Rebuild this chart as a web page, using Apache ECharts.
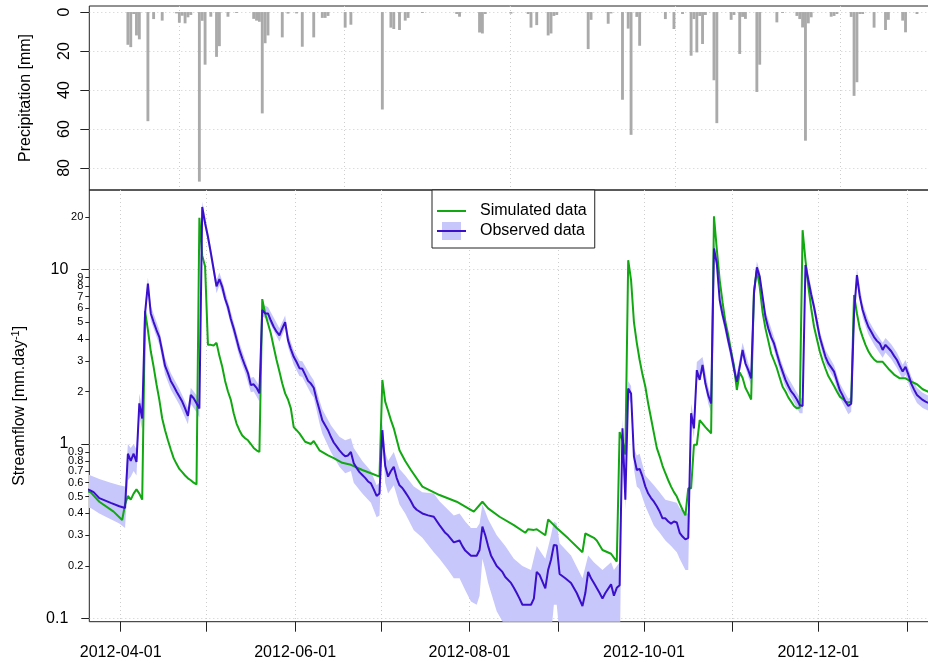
<!DOCTYPE html>
<html>
<head>
<meta charset="utf-8">
<script src="https://cdn.jsdelivr.net/npm/echarts@6/dist/echarts.min.js"></script>
<style>html,body{margin:0;padding:0;background:#fff}#c{width:928px;height:663px}</style>
</head>
<body>
<div id="c"></div>
<script>
// ---------------- DATA ----------------
const precipitation = [
['2012-04-03',16.8],['2012-04-04',18],['2012-04-05',1],['2012-04-06',12],['2012-04-07',14],['2012-04-10',56],['2012-04-12',3.6],['2012-04-15',4.4],['2012-04-20',0.7],['2012-04-21',5.5],['2012-04-22',1.9],['2012-04-23',5.8],['2012-04-24',2.7],['2012-04-25',1.5],['2012-04-28',87],['2012-04-29',4.5],['2012-04-30',27],['2012-05-02',2.4],['2012-05-04',23],['2012-05-05',17.5],['2012-05-08',2.4],['2012-05-11',0.5],['2012-05-17',3.5],['2012-05-18',4.4],['2012-05-19',5],['2012-05-20',52],['2012-05-21',16],['2012-05-22',12],['2012-05-27',13],['2012-05-29',0.8],['2012-06-01',0.7],['2012-06-03',17.8],['2012-06-07',13],['2012-06-10',3],['2012-06-11',3],['2012-06-12',2],['2012-06-18',8],['2012-06-20',6.5],['2012-07-01',50],['2012-07-04',8],['2012-07-05',8.7],['2012-07-07',9.2],['2012-07-09',4.4],['2012-07-10',3],['2012-07-15',0.5],['2012-07-27',1],['2012-07-28',2.4],['2012-08-04',10.5],['2012-08-05',11],['2012-08-06',1],['2012-08-15',0.8],['2012-08-21',1],['2012-08-22',8],['2012-08-24',6.7],['2012-08-28',12],['2012-08-29',11],['2012-08-30',2],['2012-08-31',1.5],['2012-09-11',19],['2012-09-12',4],['2012-09-18',6],['2012-09-19',0.7],['2012-09-23',45],['2012-09-25',8.5],['2012-09-26',63],['2012-09-28',2.5],['2012-09-29',17.3],['2012-10-08',3.6],['2012-10-11',8.7],['2012-10-14',1],['2012-10-17',22.4],['2012-10-18',3.6],['2012-10-19',20.7],['2012-10-20',2],['2012-10-21',16.4],['2012-10-22',1.5],['2012-10-25',35],['2012-10-26',57],['2012-10-31',4],['2012-11-01',1.5],['2012-11-03',21.5],['2012-11-04',2.5],['2012-11-05',3.5],['2012-11-09',41],['2012-11-10',27],['2012-11-16',5.3],['2012-11-18',0.5],['2012-11-23',2],['2012-11-24',3.6],['2012-11-25',7.9],['2012-11-26',66],['2012-11-27',5.8],['2012-11-28',2.7],['2012-12-05',2.4],['2012-12-06',2],['2012-12-07',1],['2012-12-12',2.5],['2012-12-13',43],['2012-12-14',36],['2012-12-15',1],['2012-12-16',1],['2012-12-20',8],['2012-12-24',9.2],['2012-12-25',4],['2012-12-30',4.4],['2012-12-31',10.4],['2013-01-04',1]
];

const simulated = [
['2012-03-20',0.535],['2012-03-21',0.528],['2012-03-24',0.467],['2012-03-29',0.41],['2012-04-01',0.367],['2012-04-02',0.45],['2012-04-03',0.504],['2012-04-04',0.48],['2012-04-05',0.52],['2012-04-06',0.55],['2012-04-07',0.52],['2012-04-08',0.48],['2012-04-09',5.78],['2012-04-10',4.5],['2012-04-11',3.4],['2012-04-12',2.77],['2012-04-13',2.2],['2012-04-14',1.79],['2012-04-15',1.4],['2012-04-16',1.2],['2012-04-17',1.05],['2012-04-18',0.93],['2012-04-19',0.83],['2012-04-20',0.77],['2012-04-21',0.72],['2012-04-22',0.69],['2012-04-23',0.66],['2012-04-24',0.636],['2012-04-25',0.62],['2012-04-26',0.6],['2012-04-27',0.587],['2012-04-28',19.8],['2012-04-29',12.0],['2012-04-30',10.4],['2012-05-01',3.7],['2012-05-02',3.7],['2012-05-03',3.67],['2012-05-04',3.8],['2012-05-05',3.2],['2012-05-06',2.77],['2012-05-07',2.3],['2012-05-08',2.0],['2012-05-09',1.79],['2012-05-10',1.5],['2012-05-11',1.31],['2012-05-12',1.2],['2012-05-13',1.12],['2012-05-14',1.08],['2012-05-15',1.05],['2012-05-16',1.0],['2012-05-17',0.95],['2012-05-18',0.92],['2012-05-19',0.9],['2012-05-20',6.77],['2012-05-21',5.6],['2012-05-22',4.9],['2012-05-23',4.3],['2012-05-24',3.6],['2012-05-25',3.03],['2012-05-26',2.6],['2012-05-27',2.22],['2012-05-28',1.95],['2012-05-29',1.8],['2012-05-30',1.6],['2012-05-31',1.25],['2012-06-01',1.2],['2012-06-02',1.15],['2012-06-04',1.03],['2012-06-06',1.0],['2012-06-07',1.04],['2012-06-09',0.92],['2012-06-12',0.86],['2012-06-14',0.83],['2012-06-17',0.78],['2012-06-20',0.76],['2012-06-24',0.71],['2012-06-27',0.68],['2012-06-30',0.65],['2012-07-01',2.33],['2012-07-02',1.75],['2012-07-03',1.55],['2012-07-04',1.37],['2012-07-05',1.23],['2012-07-07',0.92],['2012-07-09',0.8],['2012-07-11',0.71],['2012-07-15',0.57],['2012-07-21',0.51],['2012-07-27',0.467],['2012-08-02',0.41],['2012-08-05',0.467],['2012-08-07',0.428],['2012-08-11',0.383],['2012-08-16',0.343],['2012-08-20',0.31],['2012-08-21',0.325],['2012-08-23',0.322],['2012-08-24',0.325],['2012-08-27',0.3],['2012-08-28',0.37],['2012-08-31',0.33],['2012-09-04',0.288],['2012-09-09',0.24],['2012-09-10',0.307],['2012-09-13',0.29],['2012-09-14',0.28],['2012-09-16',0.247],['2012-09-19',0.235],['2012-09-21',0.212],['2012-09-22',1.17],['2012-09-23',1.05],['2012-09-24',0.87],['2012-09-25',11.3],['2012-09-26',8.7],['2012-09-27',5.0],['2012-09-28',3.8],['2012-09-29',3.03],['2012-09-30',2.5],['2012-10-01',2.13],['2012-10-02',1.7],['2012-10-03',1.4],['2012-10-04',1.15],['2012-10-05',0.95],['2012-10-06',0.85],['2012-10-07',0.75],['2012-10-08',0.68],['2012-10-09',0.62],['2012-10-10',0.57],['2012-10-11',0.53],['2012-10-12',0.5],['2012-10-13',0.457],['2012-10-14',0.42],['2012-10-15',0.39],['2012-10-16',0.557],['2012-10-17',0.557],['2012-10-18',0.99],['2012-10-19',0.99],['2012-10-20',1.37],['2012-10-21',1.31],['2012-10-22',1.25],['2012-10-23',1.2],['2012-10-24',1.15],['2012-10-25',20.2],['2012-10-26',13.0],['2012-10-27',8.7],['2012-10-28',6.5],['2012-10-29',5.0],['2012-10-30',4.2],['2012-10-31',3.4],['2012-11-01',2.8],['2012-11-02',2.04],['2012-11-03',2.57],['2012-11-04',2.4],['2012-11-05',2.1],['2012-11-06',1.95],['2012-11-07',1.8],['2012-11-08',7.6],['2012-11-09',9.9],['2012-11-10',7.96],['2012-11-11',5.7],['2012-11-12',4.6],['2012-11-13',3.9],['2012-11-14',3.3],['2012-11-15',3.0],['2012-11-16',2.72],['2012-11-17',2.4],['2012-11-18',2.13],['2012-11-19',2.0],['2012-11-20',1.85],['2012-11-21',1.75],['2012-11-22',1.65],['2012-11-23',1.6],['2012-11-24',1.62],['2012-11-25',16.8],['2012-11-26',11.3],['2012-11-27',8.0],['2012-11-28',6.0],['2012-11-29',4.7],['2012-11-30',4.0],['2012-12-01',3.4],['2012-12-02',3.0],['2012-12-03',2.7],['2012-12-04',2.45],['2012-12-05',2.3],['2012-12-06',2.15],['2012-12-07',2.0],['2012-12-08',1.87],['2012-12-09',1.82],['2012-12-10',1.75],['2012-12-11',1.73],['2012-12-12',1.75],['2012-12-13',7.15],['2012-12-14',5.6],['2012-12-15',4.6],['2012-12-16',4.1],['2012-12-17',3.7],['2012-12-18',3.4],['2012-12-19',3.2],['2012-12-20',3.05],['2012-12-21',2.96],['2012-12-23',2.96],['2012-12-25',2.7],['2012-12-27',2.5],['2012-12-29',2.38],['2012-12-31',2.38],['2013-01-02',2.28],['2013-01-04',2.2],['2013-01-06',2.06],['2013-01-08',1.99],['2013-01-09',1.96]
];

const observed = [
['2012-03-20',0.55],['2012-03-21',0.54],['2012-03-22',0.53],['2012-03-24',0.49],['2012-03-28',0.46],['2012-03-31',0.44],['2012-04-02',0.43],['2012-04-03',0.88],['2012-04-04',0.8],['2012-04-05',0.88],['2012-04-06',0.79],['2012-04-07',1.71],['2012-04-08',1.4],['2012-04-09',5.6],['2012-04-10',8.3],['2012-04-11',5.6],['2012-04-12',5.0],['2012-04-13',4.5],['2012-04-14',4.1],['2012-04-15',3.4],['2012-04-16',2.8],['2012-04-17',2.55],['2012-04-18',2.3],['2012-04-19',2.15],['2012-04-20',2.0],['2012-04-21',1.87],['2012-04-22',1.75],['2012-04-23',1.6],['2012-04-24',1.45],['2012-04-25',1.91],['2012-04-26',1.83],['2012-04-27',1.71],['2012-04-28',1.6],['2012-04-29',22.8],['2012-04-30',18.4],['2012-05-01',15.4],['2012-05-02',12.5],['2012-05-03',10.0],['2012-05-04',8.0],['2012-05-05',8.8],['2012-05-06',7.96],['2012-05-07',6.8],['2012-05-08',6.1],['2012-05-09',5.2],['2012-05-10',4.6],['2012-05-11',4.0],['2012-05-12',3.46],['2012-05-13',3.1],['2012-05-14',2.8],['2012-05-15',2.55],['2012-05-16',2.18],['2012-05-17',2.2],['2012-05-18',2.1],['2012-05-19',1.95],['2012-05-20',5.86],['2012-05-21',5.6],['2012-05-22',5.6],['2012-05-23',5.1],['2012-05-24',4.7],['2012-05-25',4.4],['2012-05-26',4.2],['2012-05-27',4.6],['2012-05-28',5.0],['2012-05-29',3.94],['2012-05-30',3.5],['2012-05-31',3.16],['2012-06-01',2.95],['2012-06-02',2.72],['2012-06-03',2.7],['2012-06-04',2.5],['2012-06-05',2.3],['2012-06-06',2.22],['2012-06-07',2.1],['2012-06-08',1.8],['2012-06-09',1.57],['2012-06-10',1.37],['2012-06-11',1.28],['2012-06-12',1.2],['2012-06-13',1.1],['2012-06-14',1.02],['2012-06-15',0.97],['2012-06-16',0.92],['2012-06-17',0.88],['2012-06-18',0.85],['2012-06-19',0.86],['2012-06-20',0.9],['2012-06-21',0.775],['2012-06-22',0.73],['2012-06-23',0.69],['2012-06-24',0.665],['2012-06-25',0.64],['2012-06-26',0.61],['2012-06-27',0.595],['2012-06-28',0.55],['2012-06-29',0.504],['2012-06-30',0.52],['2012-07-01',1.2],['2012-07-02',0.75],['2012-07-03',0.65],['2012-07-04',0.7],['2012-07-05',0.74],['2012-07-06',0.64],['2012-07-07',0.58],['2012-07-08',0.56],['2012-07-09',0.53],['2012-07-10',0.5],['2012-07-11',0.47],['2012-07-12',0.437],['2012-07-13',0.42],['2012-07-15',0.4],['2012-07-17',0.39],['2012-07-19',0.383],['2012-07-21',0.343],['2012-07-23',0.31],['2012-07-24',0.3],['2012-07-26',0.273],['2012-07-28',0.28],['2012-07-29',0.26],['2012-07-30',0.245],['2012-08-01',0.229],['2012-08-03',0.229],['2012-08-04',0.247],['2012-08-05',0.336],['2012-08-06',0.3],['2012-08-07',0.26],['2012-08-08',0.23],['2012-08-10',0.2],['2012-08-12',0.185],['2012-08-13',0.173],['2012-08-15',0.16],['2012-08-16',0.15],['2012-08-17',0.14],['2012-08-18',0.13],['2012-08-19',0.12],['2012-08-22',0.12],['2012-08-23',0.13],['2012-08-24',0.185],['2012-08-25',0.178],['2012-08-27',0.149],['2012-08-28',0.19],['2012-08-29',0.217],['2012-08-30',0.264],['2012-08-31',0.262],['2012-09-01',0.18],['2012-09-03',0.17],['2012-09-05',0.16],['2012-09-07',0.14],['2012-09-09',0.118],['2012-09-10',0.14],['2012-09-11',0.185],['2012-09-12',0.17],['2012-09-13',0.16],['2012-09-15',0.14],['2012-09-16',0.13],['2012-09-17',0.14],['2012-09-19',0.157],['2012-09-20',0.135],['2012-09-21',0.15],['2012-09-22',0.155],['2012-09-23',1.23],['2012-09-24',0.48],['2012-09-25',2.08],['2012-09-26',1.95],['2012-09-27',0.85],['2012-09-28',0.71],['2012-09-29',0.72],['2012-09-30',0.65],['2012-10-01',0.57],['2012-10-02',0.52],['2012-10-03',0.49],['2012-10-04',0.467],['2012-10-05',0.44],['2012-10-06',0.41],['2012-10-07',0.375],['2012-10-08',0.375],['2012-10-09',0.36],['2012-10-10',0.35],['2012-10-11',0.36],['2012-10-12',0.355],['2012-10-13',0.31],['2012-10-14',0.295],['2012-10-15',0.284],['2012-10-16',0.29],['2012-10-17',1.5],['2012-10-18',1.23],['2012-10-19',2.65],['2012-10-20',2.33],['2012-10-21',2.84],['2012-10-22',2.22],['2012-10-23',1.9],['2012-10-24',1.71],['2012-10-25',13.2],['2012-10-26',10.8],['2012-10-27',6.68],['2012-10-28',5.5],['2012-10-29',4.7],['2012-10-30',3.9],['2012-10-31',3.3],['2012-11-01',2.7],['2012-11-02',2.27],['2012-11-03',2.77],['2012-11-04',3.46],['2012-11-05',2.9],['2012-11-06',2.65],['2012-11-07',2.38],['2012-11-08',7.3],['2012-11-09',10.3],['2012-11-10',9.1],['2012-11-11',7.0],['2012-11-12',5.36],['2012-11-13',4.6],['2012-11-14',4.1],['2012-11-15',3.77],['2012-11-16',3.3],['2012-11-17',2.9],['2012-11-18',2.6],['2012-11-19',2.33],['2012-11-20',2.15],['2012-11-21',2.0],['2012-11-22',1.91],['2012-11-23',1.8],['2012-11-24',1.67],['2012-11-25',1.65],['2012-11-26',10.6],['2012-11-27',8.7],['2012-11-28',7.2],['2012-11-29',6.1],['2012-11-30',5.0],['2012-12-01',4.1],['2012-12-02',3.6],['2012-12-03',3.16],['2012-12-04',2.9],['2012-12-05',2.75],['2012-12-06',2.6],['2012-12-07',2.3],['2012-12-08',2.04],['2012-12-09',1.9],['2012-12-10',1.75],['2012-12-11',1.65],['2012-12-12',1.7],['2012-12-13',5.6],['2012-12-14',9.3],['2012-12-15',7.0],['2012-12-16',5.86],['2012-12-17',5.2],['2012-12-18',4.7],['2012-12-19',4.4],['2012-12-20',4.1],['2012-12-21',3.9],['2012-12-22',3.77],['2012-12-23',3.46],['2012-12-24',3.7],['2012-12-25',3.55],['2012-12-26',3.4],['2012-12-27',3.2],['2012-12-28',3.03],['2012-12-29',2.8],['2012-12-30',2.6],['2012-12-31',2.77],['2013-01-01',2.5],['2013-01-02',2.22],['2013-01-03',2.05],['2013-01-04',1.91],['2013-01-05',1.85],['2013-01-06',1.79],['2013-01-07',1.75],['2013-01-08',1.72],['2013-01-09',1.68]
];

// observed uncertainty band: [date, lower, upper]
const observedBand = [
['2012-03-20',0.43,0.67],['2012-03-21',0.43,0.66],['2012-03-24',0.4,0.63],['2012-03-28',0.37,0.6],['2012-03-31',0.35,0.58],['2012-04-02',0.33,0.57],['2012-04-03',0.62,1.0],['2012-04-04',0.65,0.95],['2012-04-05',0.7,1.0],['2012-04-06',0.66,0.93],['2012-04-07',1.45,1.95],['2012-04-08',1.2,1.6],['2012-04-09',5.0,6.2],['2012-04-10',7.6,9.0],['2012-04-11',5.1,6.2],['2012-04-14',3.7,4.5],['2012-04-16',2.5,3.1],['2012-04-18',2.05,2.55],['2012-04-21',1.68,2.07],['2012-04-24',1.3,1.62],['2012-04-25',1.7,2.1],['2012-04-27',1.52,1.9],['2012-04-28',1.42,1.78],['2012-04-29',21.0,24.5],['2012-05-01',14.2,16.6],['2012-05-03',9.2,10.8],['2012-05-04',7.3,8.7],['2012-05-05',8.1,9.6],['2012-05-06',7.3,8.6],['2012-05-08',5.6,6.6],['2012-05-10',4.2,5.0],['2012-05-12',3.15,3.8],['2012-05-14',2.55,3.05],['2012-05-16',1.98,2.4],['2012-05-17',2.0,2.42],['2012-05-19',1.75,2.15],['2012-05-20',5.4,6.3],['2012-05-22',5.15,6.1],['2012-05-26',3.85,4.6],['2012-05-28',4.6,5.45],['2012-05-29',3.6,4.3],['2012-05-31',2.85,3.45],['2012-06-02',2.45,3.0],['2012-06-03',2.42,2.98],['2012-06-06',1.95,2.45],['2012-06-07',1.85,2.32],['2012-06-09',1.32,1.78],['2012-06-10',1.15,1.58],['2012-06-13',0.9,1.28],['2012-06-16',0.74,1.1],['2012-06-18',0.68,1.05],['2012-06-20',0.7,1.08],['2012-06-21',0.6,0.95],['2012-06-24',0.52,0.8],['2012-06-27',0.46,0.7],['2012-06-29',0.38,0.58],['2012-06-30',0.39,0.6],['2012-07-01',1.05,1.35],['2012-07-02',0.6,0.9],['2012-07-03',0.52,0.8],['2012-07-05',0.58,0.9],['2012-07-07',0.45,0.72],['2012-07-09',0.4,0.66],['2012-07-12',0.32,0.57],['2012-07-15',0.29,0.53],['2012-07-19',0.24,0.52],['2012-07-21',0.22,0.47],['2012-07-24',0.19,0.42],['2012-07-26',0.17,0.39],['2012-07-28',0.17,0.4],['2012-07-30',0.145,0.36],['2012-08-01',0.125,0.33],['2012-08-03',0.12,0.33],['2012-08-04',0.135,0.35],['2012-08-05',0.22,0.45],['2012-08-06',0.19,0.41],['2012-08-07',0.16,0.37],['2012-08-10',0.11,0.3],['2012-08-13',0.09,0.26],['2012-08-16',0.07,0.22],['2012-08-19',0.05,0.2],['2012-08-22',0.05,0.19],['2012-08-24',0.06,0.26],['2012-08-27',0.05,0.22],['2012-08-29',0.08,0.3],['2012-08-30',0.12,0.36],['2012-08-31',0.12,0.35],['2012-09-01',0.08,0.27],['2012-09-05',0.06,0.23],['2012-09-09',0.04,0.17],['2012-09-11',0.07,0.23],['2012-09-13',0.06,0.21],['2012-09-16',0.05,0.19],['2012-09-19',0.05,0.21],['2012-09-20',0.04,0.19],['2012-09-22',0.05,0.21],['2012-09-23',1.05,1.4],['2012-09-24',0.42,0.56],['2012-09-25',1.85,2.3],['2012-09-26',1.7,2.15],['2012-09-27',0.72,0.95],['2012-09-28',0.57,0.86],['2012-09-29',0.55,0.88],['2012-10-01',0.44,0.66],['2012-10-04',0.34,0.58],['2012-10-06',0.31,0.53],['2012-10-08',0.28,0.48],['2012-10-10',0.26,0.47],['2012-10-12',0.24,0.46],['2012-10-13',0.22,0.43],['2012-10-15',0.19,0.4],['2012-10-16',0.19,0.4],['2012-10-17',1.35,1.7],['2012-10-18',1.08,1.4],['2012-10-19',2.35,2.95],['2012-10-21',2.55,3.15],['2012-10-23',1.7,2.12],['2012-10-24',1.52,1.9],['2012-10-25',12.2,14.3],['2012-10-26',9.9,11.7],['2012-10-27',6.1,7.3],['2012-10-29',4.3,5.1],['2012-10-31',3.0,3.6],['2012-11-02',2.07,2.5],['2012-11-04',3.15,3.8],['2012-11-06',2.42,2.9],['2012-11-07',2.17,2.6],['2012-11-08',6.7,7.9],['2012-11-09',9.5,11.1],['2012-11-10',8.4,9.8],['2012-11-12',4.9,5.8],['2012-11-15',3.45,4.1],['2012-11-17',2.65,3.15],['2012-11-19',2.12,2.55],['2012-11-22',1.73,2.1],['2012-11-24',1.5,1.85],['2012-11-25',1.5,1.82],['2012-11-26',9.7,11.5],['2012-11-29',5.6,6.6],['2012-12-01',3.75,4.45],['2012-12-03',2.88,3.45],['2012-12-06',2.37,2.83],['2012-12-08',1.85,2.23],['2012-12-11',1.48,1.82],['2012-12-12',1.53,1.87],['2012-12-13',5.1,6.1],['2012-12-14',8.5,10.1],['2012-12-16',5.3,6.4],['2012-12-18',4.25,5.15],['2012-12-20',3.7,4.5],['2012-12-23',3.12,3.8],['2012-12-24',3.35,4.05],['2012-12-26',3.07,3.73],['2012-12-28',2.73,3.33],['2012-12-30',2.35,2.85],['2012-12-31',2.5,3.03],['2013-01-02',2.0,2.44],['2013-01-04',1.72,2.1],['2013-01-06',1.61,1.97],['2013-01-08',1.55,1.89],['2013-01-09',1.5,1.85]
];

const monthTicks = ['2012-04-01','2012-05-01','2012-06-01','2012-07-01','2012-08-01','2012-09-01','2012-10-01','2012-11-01','2012-12-01','2013-01-01'];
const dateLabels = ['2012-04-01','2012-06-01','2012-08-01','2012-10-01','2012-12-01'];
const precipTicks = [0, 20, 40, 60, 80];
const precipGridTimes = ['2012-04-21 11:30','2012-06-18 04:30','2012-08-15 03:30','2012-10-12 02:30','2012-12-08 19:40'];
const flowMajorTicks = [0.1, 1, 10];
const flowMinorTicks = [0.2,0.3,0.4,0.5,0.6,0.7,0.8,0.9,2,3,4,5,6,7,8,9,20];

// ---------------- HELPERS ----------------
const DAY = 86400000;
function ts(s) {
  const parts = s.split(' ');
  const ymd = parts[0].split('-').map(Number);
  let ms = new Date(ymd[0], ymd[1] - 1, ymd[2]).getTime();
  if (parts[1]) { const hm = parts[1].split(':').map(Number); ms += (hm[0] * 60 + hm[1]) * 60000; }
  return ms;
}
const noon = s => ts(s) + DAY / 2;
const pad = n => (n < 10 ? '0' : '') + n;
const fmtDate = v => { const d = new Date(v); return d.getFullYear() + '-' + pad(d.getMonth() + 1) + '-' + pad(d.getDate()); };
const fmtNum = v => String(Math.round(v * 10) / 10);

const FONT = 'Liberation Sans, Arial, Helvetica, sans-serif';
const xMin = ts('2012-03-21');
const xMax = xMin + 297 * DAY;
const GRIDLINE = { color: '#cdcdcd', width: 1, type: [1, 3] };
const AXISCOL = '#222';

const simColor = '#12a812', obsColor = '#3a10cc', bandColor = '#c7c7fb';
const svg = s => 'image://data:image/svg+xml;charset=utf-8,' + encodeURIComponent(s);
const simIcon = svg('<svg xmlns="http://www.w3.org/2000/svg" width="38" height="18" viewBox="0 0 38 18"><line x1="0" y1="9" x2="29" y2="9" stroke="' + simColor + '" stroke-width="2"/></svg>');
const obsIcon = svg('<svg xmlns="http://www.w3.org/2000/svg" width="38" height="18" viewBox="0 0 38 18"><rect x="5" y="0" width="19" height="18" fill="' + bandColor + '"/><line x1="0" y1="9" x2="29" y2="9" stroke="' + obsColor + '" stroke-width="2"/></svg>');

const chart = echarts.init(document.getElementById('c'), null, { renderer: 'canvas' });
const option = {
  animation: false,
  backgroundColor: '#fff',
  textStyle: { fontFamily: FONT },
  grid: [
    { left: 89.3, top: 6, width: 849.1, height: 184, show: true, borderColor: AXISCOL, borderWidth: 1, backgroundColor: 'transparent', outerBoundsMode: 'none', containLabel: false },
    { left: 89.3, top: 190, width: 849.1, height: 431.7, show: true, borderColor: AXISCOL, borderWidth: 1, backgroundColor: 'transparent', outerBoundsMode: 'none', containLabel: false }
  ],
  legend: {
    orient: 'vertical', left: 432, top: 190,
    padding: [12, 8, 8, 5], itemGap: 2, itemWidth: 38, itemHeight: 18,
    borderColor: AXISCOL, borderWidth: 1, borderRadius: 0, backgroundColor: '#fff',
    selectedMode: false,
    textStyle: { fontSize: 16, color: '#000', fontFamily: FONT },
    data: [{ name: 'Simulated data', icon: simIcon }, { name: 'Observed data', icon: obsIcon }]
  },
  xAxis: [
    {
      gridIndex: 0, type: 'value', min: xMin, max: xMax, scale: true,
      axisLine: { show: false, onZero: false },
      axisTick: { show: false, customValues: precipGridTimes.map(ts) },
      axisLabel: { show: false, customValues: precipGridTimes.map(ts) },
      splitLine: { show: true, lineStyle: GRIDLINE }
    },
    {
      gridIndex: 1, type: 'value', min: xMin, max: xMax, scale: true,
      axisLine: { show: false, onZero: false },
      axisTick: { show: true, length: 10, customValues: monthTicks.map(ts), lineStyle: { color: AXISCOL, width: 1 } },
      axisLabel: { customValues: dateLabels.map(ts), formatter: fmtDate, fontSize: 16, color: '#000', margin: 23, fontFamily: FONT, hideOverlap: false },
      splitLine: { show: true, lineStyle: GRIDLINE }
    }
  ],
  yAxis: [
    {
      gridIndex: 0, type: 'value', inverse: true, min: -3.1, max: 91.3, position: 'left',
      axisLine: { show: false },
      axisTick: { show: true, length: 9, customValues: precipTicks, lineStyle: { color: AXISCOL } },
      axisLabel: { customValues: precipTicks, rotate: 90, margin: 17, fontSize: 16, color: '#000', fontFamily: FONT },
      splitLine: { show: true, lineStyle: GRIDLINE },
      name: 'Precipitation [mm]', nameLocation: 'middle', nameGap: 56,
      nameTextStyle: { fontSize: 16, color: '#000', fontFamily: FONT }
    },
    {
      gridIndex: 1, type: 'log', min: 0.0959, max: 28.55, position: 'left',
      axisLine: { show: false },
      axisTick: { show: true, length: 8, customValues: flowMajorTicks, lineStyle: { color: AXISCOL } },
      axisLabel: { customValues: flowMajorTicks, formatter: fmtNum, fontSize: 16, color: '#000', margin: 21, fontFamily: FONT },
      splitLine: { show: true, lineStyle: GRIDLINE },
      name: 'Streamflow [mm.day{sup|-1}]', nameLocation: 'middle', nameGap: 60,
      nameTextStyle: { fontSize: 16, color: '#000', fontFamily: FONT,
        rich: { sup: { fontSize: 11, color: '#000', fontFamily: FONT, verticalAlign: 'top', padding: [0, 0, 8, 0] } } }
    },
    {
      gridIndex: 1, type: 'log', min: 0.0959, max: 28.55, position: 'left', offset: 0,
      axisLine: { show: false },
      axisTick: { show: true, length: 4, customValues: flowMinorTicks, lineStyle: { color: AXISCOL } },
      axisLabel: { customValues: flowMinorTicks, formatter: fmtNum, fontSize: 11, color: '#000', margin: 6, fontFamily: FONT, hideOverlap: false },
      splitLine: { show: false }
    }
  ],
  series: [
    {
      name: 'Precipitation', type: 'bar', xAxisIndex: 0, yAxisIndex: 0,
      data: precipitation.map(p => [noon(p[0]), p[1]]),
      barWidth: 2.86, itemStyle: { color: '#aaaaaa' }, silent: true
    },
    {
      name: 'band', type: 'custom', xAxisIndex: 1, yAxisIndex: 1, clip: true, silent: true, z: 1,
      data: observedBand.map(b => [noon(b[0]), b[1], b[2]]),
      encode: { x: 0, y: [1, 2] },
      renderItem: function (params, api) {
        if (params.dataIndex !== 0) return null;
        const pts = [];
        for (let i = 0; i < observedBand.length; i++) pts.push(api.coord([noon(observedBand[i][0]), observedBand[i][2]]));
        for (let i = observedBand.length - 1; i >= 0; i--) pts.push(api.coord([noon(observedBand[i][0]), observedBand[i][1]]));
        return { type: 'polygon', shape: { points: pts }, style: { fill: bandColor } };
      }
    },
    {
      name: 'Simulated data', type: 'line', xAxisIndex: 1, yAxisIndex: 1, clip: true, z: 3,
      data: simulated.map(p => [noon(p[0]), p[1]]),
      symbol: 'none', lineStyle: { color: simColor, width: 2 }, itemStyle: { color: simColor }, silent: true
    },
    {
      name: 'Observed data', type: 'line', xAxisIndex: 1, yAxisIndex: 1, clip: true, z: 4,
      data: observed.map(p => [noon(p[0]), p[1]]),
      symbol: 'none', lineStyle: { color: obsColor, width: 2 }, itemStyle: { color: obsColor }, silent: true
    }
  ]
};
chart.setOption(option);
</script>
</body>
</html>
